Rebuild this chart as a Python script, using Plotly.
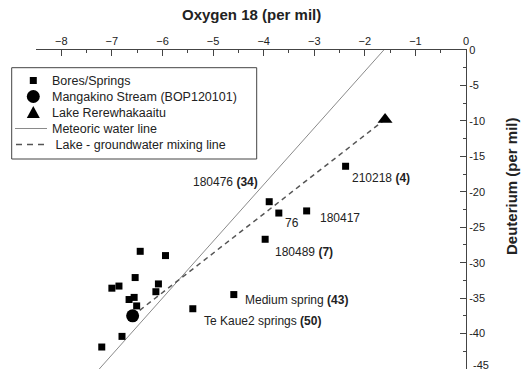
import plotly.graph_objects as go

# ---- data ----
bores_o18 = [-6.44, -5.94, -6.54, -7.00, -6.86, -6.08, -6.13, -6.66, -6.56, -6.51, -6.80, -7.20,
             -5.40, -4.59, -3.89, -3.70, -3.15, -3.97, -2.38]
bores_dD = [-28.4, -29.0, -32.1, -33.6, -33.3, -33.0, -34.1, -35.2, -34.9, -36.1, -40.4, -41.9,
            -36.5, -34.5, -21.4, -23.0, -22.7, -26.7, -16.4]
stream_o18 = [-6.59]
stream_dD = [-37.5]
lake_o18 = [-1.6]
lake_dD = [-9.8]
mwl_o18 = [-7.25, -1.625]
mwl_dD = [-45.0, 0.0]
mix_o18 = [stream_o18[0], lake_o18[0]]
mix_dD = [stream_dD[0], lake_dD[0]]

x_ticks = [-8, -7, -6, -5, -4, -3, -2, -1, 0]
y_ticks = [0, -5, -10, -15, -20, -25, -30, -35, -40]
y_bottom_tick = -45

label_text = ["180476 <b>(34)</b>", "76", "180417", "180489 <b>(7)</b>", "210218 <b>(4)</b>",
              "Medium spring <b>(43)</b>", "Te Kaue2 springs <b>(50)</b>"]
label_o18 = [-5.43, -3.62, -2.93, -3.82, -2.29, -4.41, -5.22]
label_dD = [-18.66, -24.45, -23.65, -28.45, -18.0, -35.26, -38.2]

legend_names = ["Bores/Springs", "Mangakino Stream (BOP120101)", "Lake Rerewhakaaitu",
                "Meteoric water line", " Lake - groundwater mixing line"]

W, H = 527, 373
L, R, T, B = 36, 466, 50, 369
FONT = "Liberation Sans, Arial, sans-serif"
TXT = "#222222"


def px(x):
    return (x - L) / (R - L)


def py(y):
    return (B - y) / (B - T)


fig = go.Figure()
fig.add_trace(go.Scatter(x=mwl_o18, y=mwl_dD, mode="lines",
                         line=dict(color="#8a8a8a", width=1), showlegend=False))
fig.add_trace(go.Scatter(x=mix_o18, y=mix_dD, mode="lines",
                         line=dict(color="#555555", width=1.5, dash="5px,4px"), showlegend=False))
fig.add_trace(go.Scatter(x=bores_o18, y=bores_dD, mode="markers",
                         marker=dict(symbol="square", size=7, color="black"), showlegend=False))
fig.add_trace(go.Scatter(x=stream_o18, y=stream_dD, mode="markers",
                         marker=dict(symbol="circle", size=13, color="black"), showlegend=False))
fig.add_trace(go.Scatter(x=lake_o18, y=lake_dD, mode="markers",
                         marker=dict(symbol="triangle-up", size=13, color="black"), showlegend=False))

annotations = []
for t, x, y in zip(label_text, label_o18, label_dD):
    annotations.append(dict(x=x, y=y, xref="x", yref="y", text=t, showarrow=False,
                            xanchor="left", yanchor="middle",
                            font=dict(family=FONT, size=12, color=TXT)))

# bottom y tick label, nudged up so it stays inside the picture
annotations.append(dict(x=1, y=y_bottom_tick, xref="paper", yref="y", text=str(y_bottom_tick),
                        showarrow=False, xanchor="left", yanchor="middle", xshift=5, yshift=4,
                        font=dict(family=FONT, size=11, color=TXT)))

# axis titles
annotations.append(dict(x=px(251.5), y=py(15), xref="paper", yref="paper",
                        text="<b>Oxygen 18 (per mil)</b>", showarrow=False,
                        xanchor="center", yanchor="middle",
                        font=dict(family=FONT, size=15, color=TXT)))
annotations.append(dict(x=px(511), y=py(186), xref="paper", yref="paper",
                        text="<b>Deuterium (per mil)</b>", showarrow=False, textangle=-90,
                        xanchor="center", yanchor="middle",
                        font=dict(family=FONT, size=15, color=TXT)))

# manual legend
shapes = []
shapes.append(dict(type="rect", xref="paper", yref="paper",
                   x0=px(11.7), x1=px(256.7), y0=py(159), y1=py(67.7),
                   line=dict(color="#444444", width=1), fillcolor="white", layer="below"))
rows = [80.5, 96.5, 112.5, 128.5, 144.5]
mx = 33.3
shapes.append(dict(type="rect", xref="paper", yref="paper",
                   x0=px(mx - 3.5), x1=px(mx + 3.5), y0=py(rows[0] + 3.5), y1=py(rows[0] - 3.5),
                   line=dict(width=0), fillcolor="black"))
shapes.append(dict(type="circle", xref="paper", yref="paper",
                   x0=px(mx - 6.5), x1=px(mx + 6.5), y0=py(rows[1] + 6.5), y1=py(rows[1] - 6.5),
                   line=dict(width=0), fillcolor="black"))
tri = "M {} {} L {} {} L {} {} Z".format(px(mx - 6.5), py(rows[2] + 5.5), px(mx + 6.5), py(rows[2] + 5.5),
                                        px(mx), py(rows[2] - 6.5))
shapes.append(dict(type="path", xref="paper", yref="paper", path=tri,
                   line=dict(width=0), fillcolor="black"))
shapes.append(dict(type="line", xref="paper", yref="paper",
                   x0=px(15), x1=px(47), y0=py(rows[3]), y1=py(rows[3]),
                   line=dict(color="#8a8a8a", width=1)))
shapes.append(dict(type="line", xref="paper", yref="paper",
                   x0=px(16), x1=px(46), y0=py(rows[4]), y1=py(rows[4]),
                   line=dict(color="#555555", width=1.5, dash="6px,5px")))
for name, r in zip(legend_names, rows):
    annotations.append(dict(x=px(50), y=py(r), xref="paper", yref="paper", text=name,
                            showarrow=False, xanchor="left", yanchor="middle",
                            font=dict(family=FONT, size=12.5, color=TXT)))

axis_common = dict(showline=True, linecolor="#444444", linewidth=1, showgrid=False, zeroline=False,
                   ticks="inside", ticklen=6, tickcolor="#444444", tickwidth=1,
                   automargin=False,
                   tickfont=dict(family=FONT, size=11, color=TXT))

fig.update_layout(
    width=W, height=H,
    margin=dict(l=L, r=W - R, t=T, b=H - B, pad=0, autoexpand=False),
    paper_bgcolor="white", plot_bgcolor="white",
    xaxis=dict(range=[-8.5, 0], side="top", tickvals=x_ticks,
               minor=dict(dtick=0.5, ticks="inside", ticklen=3, tickcolor="#444444"),
               **axis_common),
    yaxis=dict(range=[-45, 0], side="right", tickvals=y_ticks + [y_bottom_tick],
               ticktext=[str(v) for v in y_ticks] + [""],
               minor=dict(dtick=2.5, ticks="inside", ticklen=3, tickcolor="#444444"),
               **axis_common),
    annotations=annotations,
    shapes=shapes,
    showlegend=False,
)

fig.write_html("out.html")
